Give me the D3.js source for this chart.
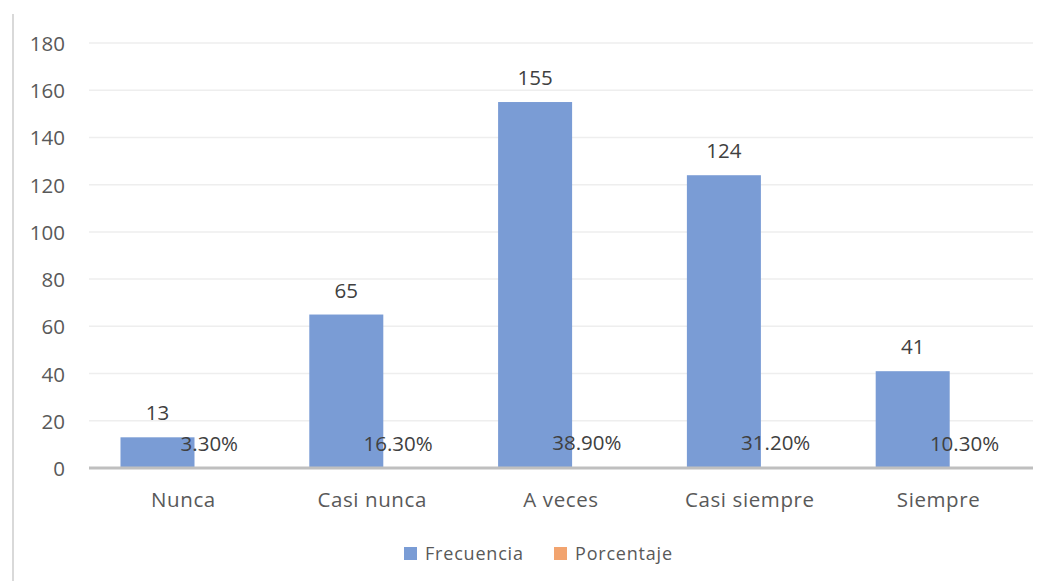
<!DOCTYPE html>
<html>
<head>
<meta charset="utf-8">
<script src="https://cdn.jsdelivr.net/npm/d3@7"></script>
<style>
  html, body { margin: 0; padding: 0; background: #fff; }
  svg { display: block; font-family: "Open Sans", "Noto Sans", sans-serif; }
</style>
</head>
<body>
<svg id="chart" width="1046" height="581"></svg>
<script>
// Categories and series
const categories = ["Nunca", "Casi nunca", "A veces", "Casi siempre", "Siempre"];
const frecuencia = [13, 65, 155, 124, 41];
const porcentaje = [0.033, 0.163, 0.389, 0.312, 0.103];
const yTicks = [0, 20, 40, 60, 80, 100, 120, 140, 160, 180];
const seriesNames = ["Frecuencia", "Porcentaje"];
const seriesColors = ["#7a9cd5", "#f2a46f"];

const svg = d3.select("#chart");
const W = 1046, H = 581;
const plot = { left: 89, right: 1033, top: 43, bottom: 468 };

// chart frame (left edge)
svg.append("line")
  .attr("x1", 13).attr("x2", 13).attr("y1", 14).attr("y2", H)
  .attr("stroke", "#d9d9d9").attr("stroke-width", 2);

const x = d3.scaleBand().domain(categories).range([plot.left, plot.right]).padding(0);
const y = d3.scaleLinear().domain([0, 180]).range([plot.bottom, plot.top]);

// clustered bars with 30% overlap between the two series
const bw = x.bandwidth() * 0.392;
const overlap = 0.3;
const barX = (cat, s) => x(cat) + x.bandwidth() / 2 - bw * (2 - overlap) / 2 + s * bw * (1 - overlap);

// gridlines
svg.append("g").selectAll("line")
  .data(yTicks.filter(d => d > 0))
  .join("line")
  .attr("x1", plot.left).attr("x2", plot.right)
  .attr("y1", d => y(d)).attr("y2", d => y(d))
  .attr("stroke", "#eeeeee").attr("stroke-width", 1.5);

// y tick labels
svg.append("g").selectAll("text")
  .data(yTicks)
  .join("text")
  .attr("x", 65).attr("y", d => y(d))
  .attr("text-anchor", "end").attr("dominant-baseline", "central")
  .attr("font-size", 20.5).attr("fill", "#595959")
  .text(d => d);

// Frecuencia bars
svg.append("g").selectAll("rect")
  .data(categories)
  .join("rect")
  .attr("x", (d) => barX(d, 0))
  .attr("y", (d, i) => y(frecuencia[i]))
  .attr("width", bw)
  .attr("height", (d, i) => y(0) - y(frecuencia[i]))
  .attr("fill", seriesColors[0]);

// Porcentaje bars (share of total, on the same axis)
svg.append("g").selectAll("rect")
  .data(categories)
  .join("rect")
  .attr("x", (d) => barX(d, 1))
  .attr("y", (d, i) => y(porcentaje[i]))
  .attr("width", bw)
  .attr("height", (d, i) => y(0) - y(porcentaje[i]))
  .attr("fill", seriesColors[1]);

// category axis line
svg.append("line")
  .attr("x1", plot.left).attr("x2", plot.right)
  .attr("y1", y(0)).attr("y2", y(0))
  .attr("stroke", "#bfbfbf").attr("stroke-width", 3);

// category labels
svg.append("g").selectAll("text")
  .data(categories)
  .join("text")
  .attr("x", d => x(d) + x.bandwidth() / 2)
  .attr("y", 507)
  .attr("text-anchor", "middle")
  .attr("font-size", 20.5).attr("letter-spacing", 0.6).attr("fill", "#595959")
  .text(d => d);

// data labels
svg.append("g").selectAll("text")
  .data(categories)
  .join("text")
  .attr("x", d => barX(d, 0) + bw / 2)
  .attr("y", (d, i) => y(frecuencia[i]) - 17)
  .attr("text-anchor", "middle")
  .attr("font-size", 20.5).attr("fill", "#404040")
  .text((d, i) => frecuencia[i]);

svg.append("g").selectAll("text")
  .data(categories)
  .join("text")
  .attr("x", d => barX(d, 1) + bw / 2)
  .attr("y", (d, i) => y(porcentaje[i]) - 17)
  .attr("text-anchor", "middle")
  .attr("font-size", 20.5).attr("fill", "#404040")
  .text((d, i) => (porcentaje[i] * 100).toFixed(2) + "%");

// legend
const legendX = [404, 554];
const legend = svg.append("g").selectAll("g")
  .data(seriesNames)
  .join("g")
  .attr("transform", (d, i) => `translate(${legendX[i]},547)`);
legend.append("rect")
  .attr("width", 13).attr("height", 13)
  .attr("fill", (d, i) => seriesColors[i]);
legend.append("text")
  .attr("x", 21).attr("y", 13)
  .attr("font-size", 18).attr("letter-spacing", 0.8).attr("fill", "#595959")
  .text(d => d);
</script>
</body>
</html>
